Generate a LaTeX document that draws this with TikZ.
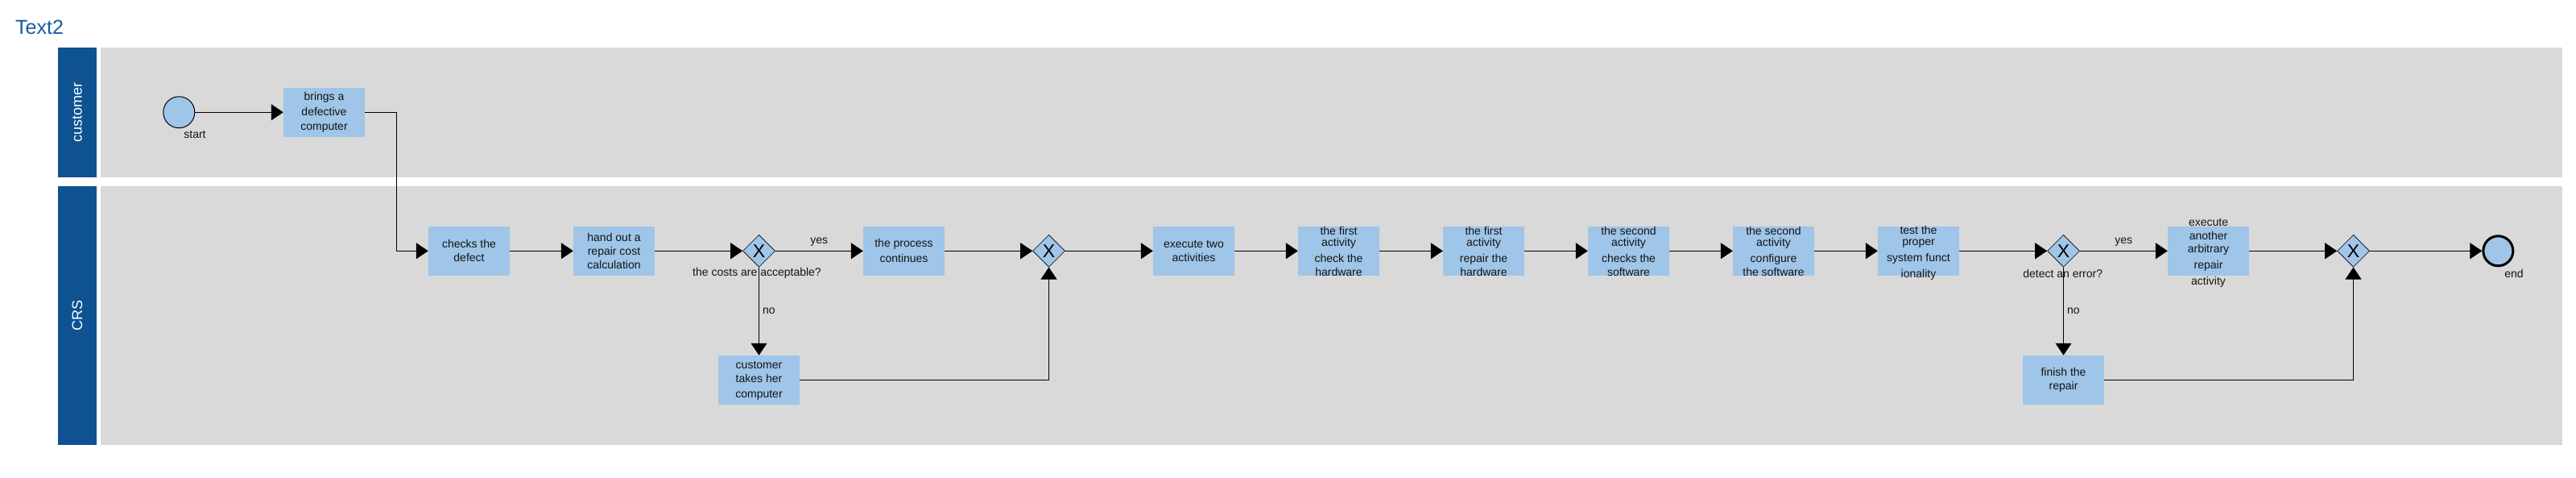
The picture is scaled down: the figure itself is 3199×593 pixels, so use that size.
\documentclass[tikz,border=0pt]{standalone}
\usepackage{fontspec}
\setmainfont{Liberation Sans}
\usetikzlibrary{shapes.geometric,arrows.meta}
\definecolor{lanegray}{RGB}{217,217,217}
\definecolor{hdrblue}{RGB}{14,82,146}
\definecolor{titleblue}{RGB}{25,90,160}
\definecolor{taskblue}{RGB}{159,197,232}
\definecolor{inkc}{RGB}{20,20,20}
\tikzset{
  task/.style={fill=taskblue, minimum width=101pt, minimum height=60.7pt, inner sep=0pt},
  txt/.style={font=\fontsize{14}{17}\selectfont, align=center, inner sep=0pt, text=inkc},
  gw/.style={diamond, draw=black, line width=0.6pt, fill=taskblue, minimum width=40pt, minimum height=40pt, inner sep=0pt, font=\fontsize{23}{23}\selectfont},
  flow/.style={line width=1pt, -{Triangle[length=15pt,width=20pt]}},
  lbl/.style={font=\fontsize{14}{17}\selectfont, inner sep=0pt, text=inkc},
  lanebg/.style={fill=lanegray},
  hdrbg/.style={fill=hdrblue},
  hdrtxt/.style={rotate=90, text=white, font=\fontsize{18}{18}\selectfont, inner sep=0pt},
  evstart/.style={circle, draw=black, line width=1pt, fill=taskblue, minimum size=39pt, inner sep=0pt},
  evend/.style={circle, draw=black, line width=3pt, fill=taskblue, minimum size=37pt, inner sep=0pt},
}
\begin{document}
\begin{tikzpicture}[x=1pt,y=-1pt]
\useasboundingbox (0,0) rectangle (3199,593);
% title
\node[anchor=west, inner sep=0pt, text=titleblue, font=\fontsize{25}{30}\selectfont] (title) at (19,34) {Text2};
% lanes
\fill[hdrbg] (72,59) rectangle (120,220);
\fill[lanebg] (125,59) rectangle (3182,220);
\fill[hdrbg] (72,231) rectangle (120,552);
\fill[lanebg] (125,231) rectangle (3182,552);
\node[hdrtxt] (hcust) at (96,139.5) {customer};
\node[hdrtxt] (hcrs) at (96,391.5) {CRS};
% customer lane
\node[evstart] (start) at (222.3,139.3) {};
\node[lbl] (startl) at (242,167) {start};
\node[task] (brings) at (402.5,139.3) {};
\node[txt] at (brings) {brings a\\[2pt]defective\\[1pt]computer};
% CRS lane main row
\node[task] (checks) at (582.5,311.3) {};
\node[txt] at (checks) {checks the\\defect};
\node[task] (handout) at (762.5,311.3) {};
\node[txt] at (handout) {hand out a\\repair cost\\calculation};
\node[gw] (gw1) at (942.5,311.3) {X};
\node[lbl] (gw1l) at (940,339) {the costs are acceptable?};
\node[task] (process) at (1122.5,311.3) {};
\node[txt] at (process) {the process\\[2pt]continues};
\node[gw] (gw2) at (1302.5,311.3) {X};
\node[task] (exectwo) at (1482.5,311.3) {};
\node[txt] at (exectwo) {execute two\\activities};
\node[task] (fcheck) at (1662.5,311.3) {};
\node[txt] at ([yshift=-1pt]fcheck.center) {the first\\[-3pt]activity\\[3pt]check the\\hardware};
\node[task] (frepair) at (1842.5,311.3) {};
\node[txt] at ([yshift=-1pt]frepair.center) {the first\\[-3pt]activity\\[3pt]repair the\\hardware};
\node[task] (scheck) at (2022.5,311.3) {};
\node[txt] at ([yshift=-1pt]scheck.center) {the second\\[-3pt]activity\\[3pt]checks the\\software};
\node[task] (sconfig) at (2202.5,311.3) {};
\node[txt] at ([yshift=-1pt]sconfig.center) {the second\\[-3pt]activity\\[3pt]configure\\the software};
\node[task] (test) at (2382.5,311.3) {};
\node[txt] at ([yshift=-2.5pt]test.center) {test the\\[-3pt]proper\\[3pt]system funct\\[3pt]ionality};
\node[gw] (gw3) at (2562.5,311.3) {X};
\node[lbl] (gw3l) at (2561.7,339) {detect an error?};
\node[task] (another) at (2742.5,311.3) {};
\node[txt] at ([yshift=-3pt]another.center) {execute\\another\\[-1pt]arbitrary\\[3pt]repair\\[3pt]activity};
\node[gw] (gw4) at (2922.5,311.3) {X};
\node[evend] (end) at (3102.3,311.3) {};
\node[lbl] (endl) at (3122,339) {end};
% CRS lane lower row
\node[task] (takes) at (942.5,471.3) {};
\node[txt] at ([yshift=-1pt]takes.center) {customer\\takes her\\[2pt]computer};
\node[task] (finish) at (2562.5,471.3) {};
\node[txt] at (finish) {finish the\\repair};
% connectors
\coordinate (bend1) at (492.3,139.3);
\draw[flow] (start) -- (brings);
\draw[flow] (brings.east) -- (bend1) |- (checks.west);
\draw[flow] (checks) -- (handout);
\draw[flow] (handout) -- (gw1);
\draw[flow] (gw1) -- node[lbl, above=5pt] {yes} (process);
\draw[flow] (gw1) -- node[lbl, right=4pt] {no} (takes);
\draw[flow] (process) -- (gw2);
\draw[flow] (takes.east) -| (gw2.south);
\draw[flow] (gw2) -- (exectwo);
\draw[flow] (exectwo) -- (fcheck);
\draw[flow] (fcheck) -- (frepair);
\draw[flow] (frepair) -- (scheck);
\draw[flow] (scheck) -- (sconfig);
\draw[flow] (sconfig) -- (test);
\draw[flow] (test) -- (gw3);
\draw[flow] (gw3) -- node[lbl, above=5pt] {yes} (another);
\draw[flow] (gw3) -- node[lbl, right=4pt] {no} (finish);
\draw[flow] (another) -- (gw4);
\draw[flow] (finish.east) -| (gw4.south);
\draw[flow] (gw4) -- (end);
\end{tikzpicture}
\end{document}
